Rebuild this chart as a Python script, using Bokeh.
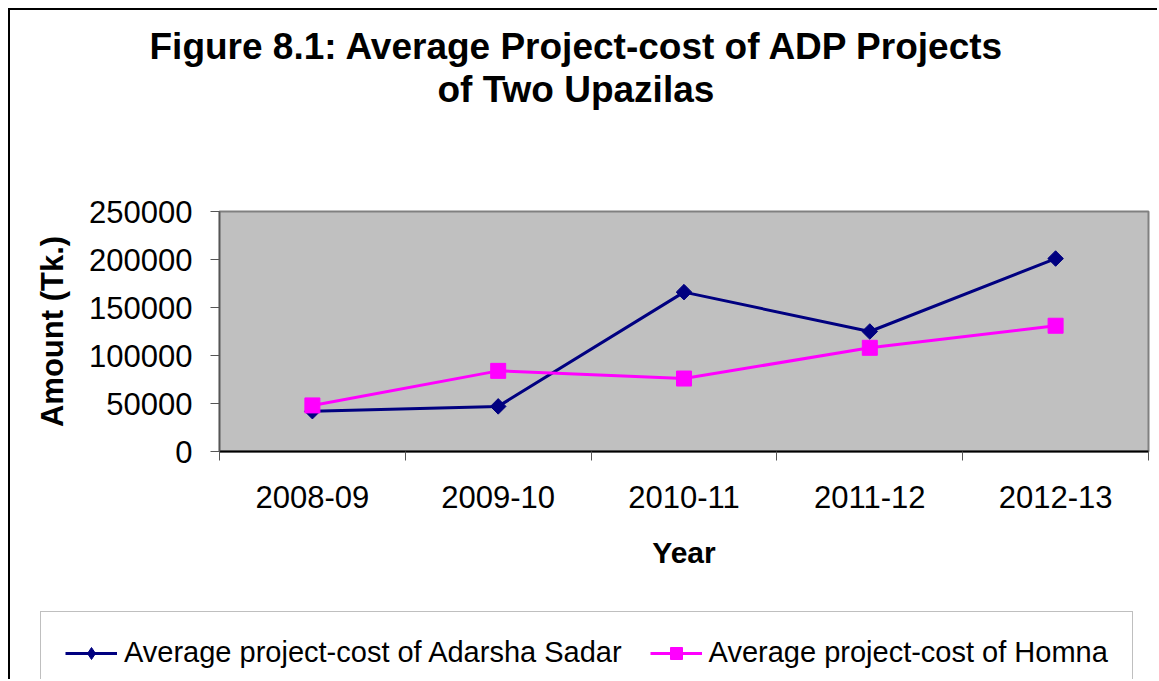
from bokeh.plotting import figure
from bokeh.layouts import column
from bokeh.models import (Range1d, FixedTicker, NumeralTickFormatter, Legend, LegendItem, Title)
from bokeh.embed import file_html
from bokeh.resources import INLINE

years = ["2008-09", "2009-10", "2010-11", "2011-12", "2012-13"]
adarsha = [42000, 47000, 166000, 125000, 201000]
homna = [48000, 84000, 76000, 108000, 131000]
y_ticks = [0, 50000, 100000, 150000, 200000, 250000]
series_names = ["Average project-cost of Adarsha Sadar", "Average project-cost of Homna"]

FONT = "Liberation Sans"
NAVY = "#000080"
MAGENTA = "#FF00FF"
xs = [i + 0.5 for i in range(len(years))]

p = figure(width=1149, height=592, output_backend="svg", toolbar_location=None,
           x_range=Range1d(0, len(years)), y_range=Range1d(0, 250000),
           min_border_left=209, min_border_right=11, min_border_top=201, min_border_bottom=151)
p.margin = (8, 0, 0, 8)
p.styles = {"border-left": "2px solid black", "border-top": "2px solid black"}
p.background_fill_color = "#C0C0C0"
p.border_fill_color = "white"
p.outline_line_color = "#808080"
p.outline_line_width = 2
p.xgrid.visible = False
p.ygrid.visible = False

# x axis
p.xaxis.ticker = FixedTicker(ticks=xs, minor_ticks=list(range(len(years) + 1)))
p.xaxis.major_label_overrides = {x: y for x, y in zip(xs, years)}
p.xaxis.major_tick_out = 0
p.xaxis.major_tick_in = 0
p.xaxis.minor_tick_out = 9
p.xaxis.minor_tick_in = 0
p.xaxis.minor_tick_line_color = "#555555"
p.xaxis.axis_line_color = "black"
p.xaxis.axis_line_width = 2
p.xaxis.major_label_text_font = FONT
p.xaxis.major_label_text_font_size = "31px"
p.xaxis.major_label_text_color = "black"
p.xaxis.major_label_standoff = 25
p.xaxis.axis_label = "Year"
p.xaxis.axis_label_text_font = FONT
p.xaxis.axis_label_text_font_style = "bold"
p.xaxis.axis_label_text_font_size = "30px"
p.xaxis.axis_label_text_color = "black"
p.xaxis.axis_label_standoff = 25

# y axis
p.yaxis.ticker = FixedTicker(ticks=y_ticks, minor_ticks=[])
p.yaxis.formatter = NumeralTickFormatter(format="0")
p.yaxis.major_tick_out = 9
p.yaxis.major_tick_in = 0
p.yaxis.major_tick_line_color = "#555555"
p.yaxis.axis_line_color = "#555555"
p.yaxis.axis_line_width = 1.5
p.yaxis.major_label_text_font = FONT
p.yaxis.major_label_text_font_size = "31px"
p.yaxis.major_label_text_color = "black"
p.yaxis.major_label_standoff = 18
p.yaxis.axis_label = "Amount (Tk.)"
p.yaxis.axis_label_text_font = FONT
p.yaxis.axis_label_text_font_style = "bold"
p.yaxis.axis_label_text_font_size = "31px"
p.yaxis.axis_label_text_color = "black"
p.yaxis.axis_label_standoff = 16

# series
p.line(xs, adarsha, line_color=NAVY, line_width=3)
p.scatter(xs, adarsha, marker="square", angle=0.785398, size=11, fill_color=NAVY, line_color=NAVY)
p.line(xs, homna, line_color=MAGENTA, line_width=3)
p.scatter(xs, homna, marker="square", size=15, fill_color=MAGENTA, line_color=MAGENTA)

# title (two lines) + spacer; the one added first sits nearest the plot area
spacer = Title(text=" ", text_font_size="1px", standoff=99)
t2 = Title(text="of Two Upazilas", align="left", offset=218, standoff=0,
           text_font=FONT, text_font_style="bold", text_font_size="37px", text_color="black")
t1 = Title(text="Figure 8.1: Average Project-cost of ADP Projects", align="left", offset=-70, standoff=0,
           text_font=FONT, text_font_style="bold", text_font_size="37px", text_color="black")
p.add_layout(spacer, "above")
p.add_layout(t2, "above")
p.add_layout(t1, "above")

# legend strip (its own plot; the series are out of its view, only the legend shows)
q = figure(width=1149, height=79, output_backend="svg", toolbar_location=None,
           x_range=Range1d(0, 1), y_range=Range1d(0, 1),
           x_axis_location=None, y_axis_location=None,
           min_border_left=0, min_border_right=0, min_border_top=0, min_border_bottom=0)
q.margin = (0, 0, 0, 8)
q.styles = {"border-left": "2px solid black"}
q.outline_line_color = None
q.background_fill_color = "white"
q.border_fill_color = "white"
q.xgrid.visible = False
q.ygrid.visible = False
for fig in (p, q):
    if "frame_align" in fig.properties():
        fig.frame_align = False
ql1 = q.line(xs, adarsha, line_color=NAVY, line_width=3)
qm1 = q.scatter(xs, adarsha, marker="diamond", size=15, fill_color=NAVY, line_color=NAVY)
ql2 = q.line(xs, homna, line_color=MAGENTA, line_width=3)
qm2 = q.scatter(xs, homna, marker="square", size=15, fill_color=MAGENTA, line_color=MAGENTA)

legend = Legend(items=[
    LegendItem(label=series_names[0], renderers=[ql1, qm1]),
    LegendItem(label=series_names[1], renderers=[ql2, qm2]),
], orientation="horizontal", location=(30, -15))
legend.label_text_font = FONT
legend.label_text_font_size = "29px"
legend.label_text_color = "black"
legend.glyph_width = 52
legend.glyph_height = 30
legend.label_height = 30
legend.label_standoff = 7
legend.spacing = 28
legend.padding = 24
legend.margin = 0
legend.border_line_color = "#808080"
legend.border_line_width = 1.5
legend.background_fill_color = "white"
legend.background_fill_alpha = 1
q.add_layout(legend, "center")

layout = column(p, q, spacing=0)
open("out.html", "w").write(file_html(layout, INLINE))
